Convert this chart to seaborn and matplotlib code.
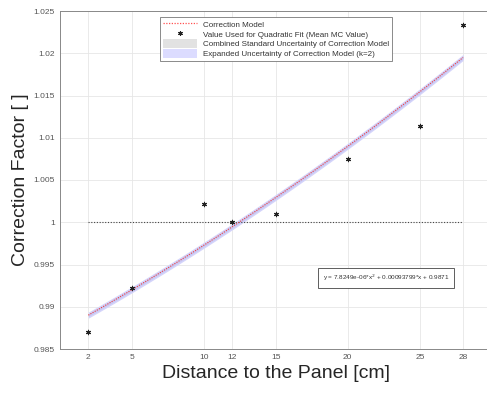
import numpy as np
import pandas as pd
import matplotlib
matplotlib.use("Agg")
import matplotlib.pyplot as plt
import seaborn as sns
from matplotlib.patches import Patch
from matplotlib.lines import Line2D

# Data
distance = [2, 5, 10, 12, 15, 20, 25, 28]
mean_mc = [0.9870, 0.9922, 1.0022, 1.0000, 1.0010, 1.0075, 1.0114, 1.0233]
coef = [7.8249e-06, 0.00093799, 0.9871]
std_unc = 0.00016
exp_unc = 0.00036
x_ticks = [2, 5, 10, 12, 15, 20, 25, 28]
y_ticks = [0.985, 0.99, 0.995, 1.0, 1.005, 1.01, 1.015, 1.02, 1.025]
y_ticklabels = ["0.985", "0.99", "0.995", "1", "1.005", "1.01", "1.015", "1.02", "1.025"]

sns.set_style("white")
plt.rcParams['font.family'] = ['Liberation Sans', 'DejaVu Sans']

fig = plt.figure(figsize=(4.87, 3.94), dpi=100)
ax = fig.add_axes([59.5/487, 45/394, (487-59.5)/487 + 0.01, (349-11)/394])

xs = np.linspace(distance[0], distance[-1], 200)
model = coef[0]*xs**2 + coef[1]*xs + coef[2]
df_model = pd.DataFrame({"x": xs, "y": model})
df_pts = pd.DataFrame({"x": distance, "y": mean_mc})

# bands
ax.fill_between(xs, model-exp_unc, model+exp_unc, color='#d4d4fb', lw=0, zorder=2)
ax.fill_between(xs, model-std_unc, model+std_unc, color='#c8c8f2', lw=0, zorder=3)

sns.lineplot(data=df_model, x="x", y="y", ax=ax, color='#f03c3c', lw=0.8,
             linestyle=(0, (1, 1.2)), zorder=4, legend=False)
ast = (6, 2, 0)
sns.scatterplot(data=df_pts, x="x", y="y", ax=ax, marker=ast, s=10, color='#222222',
                edgecolor='#222222', linewidth=0.8, zorder=5, legend=False)
ax.plot([distance[0], distance[-1]], [1, 1], color='#444444', lw=0.8,
        linestyle=(0, (1, 1.5)), zorder=3)

ax.set_xlim(0, 30)
ax.set_ylim(0.985, 1.025)
ax.set_xticks(x_ticks)
ax.set_xticklabels([str(t) for t in x_ticks])
ax.set_yticks(y_ticks)
ax.set_yticklabels(y_ticklabels)
ax.tick_params(labelsize=6, colors='#555555', length=3, width=0.5, direction='in')
ax.grid(True, color='#e6e6e6', lw=0.6)
for s in ax.spines.values():
    s.set_color('#888888')
    s.set_linewidth(0.7)

ax.set_xlabel("Distance to the Panel [cm]", fontsize=14, color='#262626', labelpad=3)
ax.set_ylabel("Correction Factor [ ]", fontsize=14, color='#262626', labelpad=3)

handles = [
    Line2D([], [], color='#ff5050', lw=0.9, linestyle=(0, (1, 1.2))),
    Line2D([], [], color='#222222', marker=ast, markersize=3.2, markeredgewidth=0.8, lw=0),
    Patch(color='#e2e2e2', lw=0),
    Patch(color='#dcdcff', lw=0),
]
labels = ['Correction Model', 'Value Used for Quadratic Fit (Mean MC Value)',
          'Combined Standard Uncertainty of Correction Model',
          'Expanded Uncertainty of Correction Model (k=2)']
leg = ax.legend(handles, labels, loc='upper left',
                bbox_to_anchor=((155-59.5)/427.5, 1 - 2/338), fontsize=5.8,
                frameon=True, fancybox=False, edgecolor='#777777', framealpha=1,
                handlelength=4.2, handleheight=1.2, labelspacing=0.12, borderpad=0.35,
                handletextpad=0.8)
leg.get_frame().set_linewidth(0.6)
for t in leg.get_texts():
    t.set_color('#333333')

ax.text(22.65, 0.9934, "y = 7.8249e-06*x$^2$ + 0.00093799*x + 0.9871", fontsize=4.6,
        ha='center', va='center', zorder=6, color='#333333',
        bbox=dict(boxstyle='square,pad=0.7', fc='white', ec='#444444', lw=0.6))

fig.savefig("out.png", dpi=100)
